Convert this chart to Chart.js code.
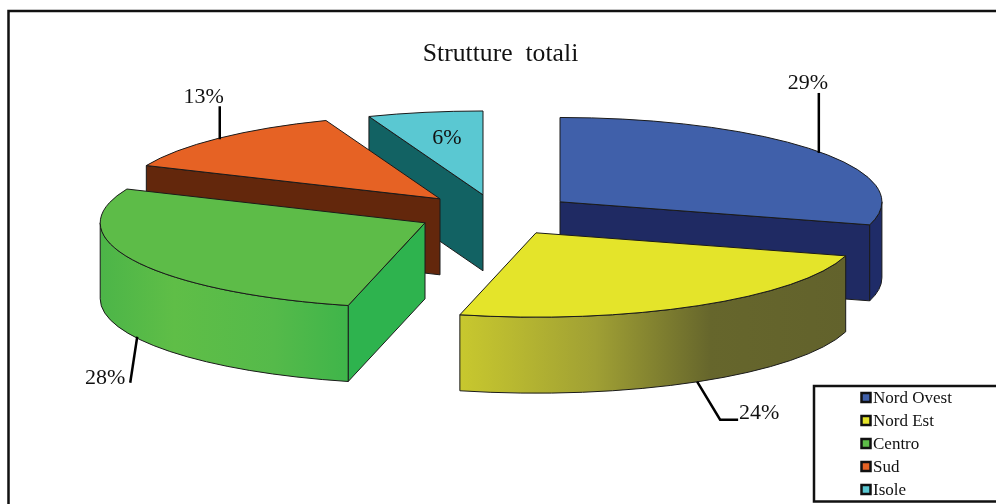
<!DOCTYPE html>
<html><head><meta charset="utf-8">
<style>html,body{margin:0;padding:0;background:#fff}canvas{display:block}</style>
<script src="https://cdn.jsdelivr.net/npm/chart.js@4"></script>
</head><body><canvas id="c" width="996" height="504"></canvas>
<script>
const categories = ['Nord Ovest','Nord Est','Centro','Sud','Isole'];
const shares = [29.4,24.4,27.7,12.7,5.8];
const titleText = 'Strutture  totali';
const topColors = ['#4060AA','#E4E42A','#5DBC48','#E66224','#5AC8D2'];
const radialColors = ['#1F2A63','#9A9A30','#2EB34E','#63270C','#126263'];
const wallStops = [
  [[0,'#1F2C68'],[1,'#1F2C68']],
  [[0,'#C8C82E'],[0.35,'#A0A034'],[0.65,'#66662C'],[1,'#62622C']],
  [[0,'#4CB548'],[0.3,'#5FBE47'],[0.7,'#55BA4A'],[1,'#3FB54A']],
  [[0,'#63270C'],[1,'#63270C']],
  [[0,'#126263'],[1,'#126263']]
];
const shiftX = [59.5,35.5,-75.5,-60.5,-17.5];
const shiftY = [-12,19,9,-15,-19];
const radiusScale = [1.006,1.006,1.015,1,1];
const drawOrder = [4,3,0,2,1];
const squash = 0.262, depth = 76, pieRadius = 320;
// label text centre and leader bends, relative to the slice's mid-angle anchor
const labelAt = [[-9,-68],[61,31.5],[-29,41],[-15,-41],[22,26]];
const leaderAt = [[[2,2],[2,-58]],[[-1,0],[22,38],[40,38]],[[3,0],[-4,46]],[[1,1],[1,-32]],null];

function geom(arc,i){
  const m=(arc.startAngle+arc.endAngle)/2, r=arc.outerRadius*radiusScale[i];
  return {m,r,a0:arc.startAngle,a1:arc.endAngle,ax:arc.x+shiftX[i],ay:arc.y+shiftY[i]};
}
function wall(ctx,g,a,color){
  const x=g.ax+g.r*Math.cos(a), y=g.ay+g.r*squash*Math.sin(a);
  ctx.beginPath();ctx.moveTo(g.ax,g.ay);ctx.lineTo(x,y);ctx.lineTo(x,y+depth);ctx.lineTo(g.ax,g.ay+depth);ctx.closePath();
  ctx.fillStyle=color;ctx.fill();ctx.stroke();
}
const pie3d = {
  id:'pie3d',
  beforeDatasetsDraw(chart){
    const ctx=chart.ctx, arcs=chart.getDatasetMeta(0).data;
    ctx.save();
    ctx.strokeStyle='#111';ctx.lineWidth=2.5;ctx.strokeRect(8.5,11,1100,700);
    ctx.lineJoin='round';
    drawOrder.forEach(i=>{
      const g=geom(arcs[i],i);
      ctx.strokeStyle='#1a1a1a';ctx.lineWidth=1;
      if(Math.cos(g.a0)<0) wall(ctx,g,g.a0,radialColors[i]);
      if(Math.cos(g.a1)>0) wall(ctx,g,g.a1,radialColors[i]);
      const lo=Math.max(g.a0,0), hi=Math.min(g.a1,Math.PI);
      if(lo<hi){
        const x0=g.ax+g.r*Math.cos(hi), x1=g.ax+g.r*Math.cos(lo);
        const left=(hi>=Math.PI)?g.ax-g.r:x0, right=(lo<=0)?g.ax+g.r:x1;
        const gr=ctx.createLinearGradient(left,0,right,0);
        wallStops[i].forEach(s=>gr.addColorStop(s[0],s[1]));
        ctx.beginPath();
        ctx.ellipse(g.ax,g.ay,g.r,g.r*squash,0,lo,hi);
        ctx.ellipse(g.ax,g.ay+depth,g.r,g.r*squash,0,hi,lo,true);
        ctx.closePath();ctx.fillStyle=gr;ctx.fill();ctx.stroke();
      }
      ctx.beginPath();ctx.moveTo(g.ax,g.ay);
      ctx.ellipse(g.ax,g.ay,g.r,g.r*squash,0,g.a0,g.a1);ctx.closePath();
      ctx.fillStyle=topColors[i];ctx.fill();ctx.stroke();
    });
    ctx.fillStyle='#111';ctx.textAlign='center';ctx.textBaseline='middle';
    ctx.font='22px "Liberation Serif"';
    arcs.forEach((arc,i)=>{
      const g=geom(arc,i);
      const front=Math.sin(g.m)>0;
      const bx=g.ax+g.r*Math.cos(g.m), by=g.ay+g.r*squash*Math.sin(g.m)+(front?depth:0);
      if(leaderAt[i]){
        ctx.strokeStyle='#000';ctx.lineWidth=2.5;ctx.lineJoin='miter';
        ctx.beginPath();
        leaderAt[i].forEach((p,k)=>k?ctx.lineTo(bx+p[0],by+p[1]):ctx.moveTo(bx+p[0],by+p[1]));
        ctx.stroke();
      }
      ctx.fillText(Math.round(shares[i])+'%',bx+labelAt[i][0],by+labelAt[i][1]);
    });
    ctx.strokeStyle='#111';ctx.lineWidth=2.5;ctx.strokeRect(814,386,300,115.5);
    ctx.textAlign='left';ctx.font='17px "Liberation Serif"';
    categories.forEach((c,i)=>{
      const y=398+i*23;
      ctx.fillStyle=topColors[i];ctx.strokeStyle='#111';ctx.lineWidth=2.5;
      ctx.fillRect(861.5,y-5,9,9);ctx.strokeRect(861.5,y-5,9,9);
      ctx.fillStyle='#111';ctx.fillText(c,873,y+0.5);
    });
    ctx.restore();
    return false;
  }
};
new Chart(document.getElementById('c'),{
  type:'pie',
  data:{labels:categories,datasets:[{data:shares,backgroundColor:topColors,borderColor:'#1a1a1a',borderWidth:1,radius:pieRadius}]},
  options:{
    responsive:false,animation:false,
    layout:{padding:{left:5,right:0,top:0,bottom:145.6}},
    plugins:{
      legend:{display:false},tooltip:{enabled:false},
      title:{display:true,text:titleText,color:'#111',font:{family:'"Liberation Serif"',size:25.7,weight:'normal'},padding:{top:38.4,bottom:0}}
    }
  },
  plugins:[pie3d]
});
</script></body></html>
